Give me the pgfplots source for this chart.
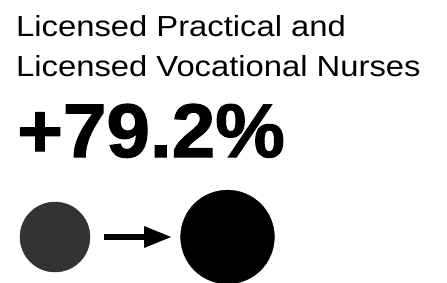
\documentclass[border=0pt]{standalone}
\usepackage{pgfplots}
\pgfplotsset{compat=1.18}
\usepackage{fontspec}
\setmainfont{Liberation Sans}
\newfontfamily\titlefont[FakeStretch=1.13]{Liberation Sans}
\newfontfamily\bigfont[FakeStretch=1.03, FakeBold=1.5]{Liberation Sans Bold}
\usetikzlibrary{arrows.meta}
\definecolor{darkgray}{HTML}{333333}
\begin{document}
\begin{tikzpicture}
\useasboundingbox (0,0) rectangle (447pt,282pt);
\begin{axis}[
  at={(0,0)}, anchor=south west,
  width=447pt, height=282pt, scale only axis,
  xmin=0, xmax=447, ymin=0, ymax=282, y dir=reverse,
  hide axis,
]
\addplot[only marks, mark=*, mark size=35pt, darkgray, mark options={draw=none, fill=darkgray}] coordinates {(55,237)};
\addplot[only marks, mark=*, mark size=46.9pt, black, mark options={draw=none, fill=black}] coordinates {(227.5,237)};
\addplot[black, line width=6pt, -{Triangle[length=28pt,width=20pt]}] coordinates {(104,237) (172,237)};
\node[anchor=base west, inner sep=0pt, font=\titlefont\fontsize{29}{34}\selectfont] at (axis cs:16,36) {Licensed Practical and};
\node[anchor=base west, inner sep=0pt, font=\titlefont\fontsize{29}{34}\selectfont] at (axis cs:16,76) {Licensed Vocational Nurses};
\node[anchor=base west, inner sep=0pt, font=\bigfont\fontsize{76}{80}\selectfont] at (axis cs:17,157) {+79.2\%};
\end{axis}
\end{tikzpicture}
\end{document}
